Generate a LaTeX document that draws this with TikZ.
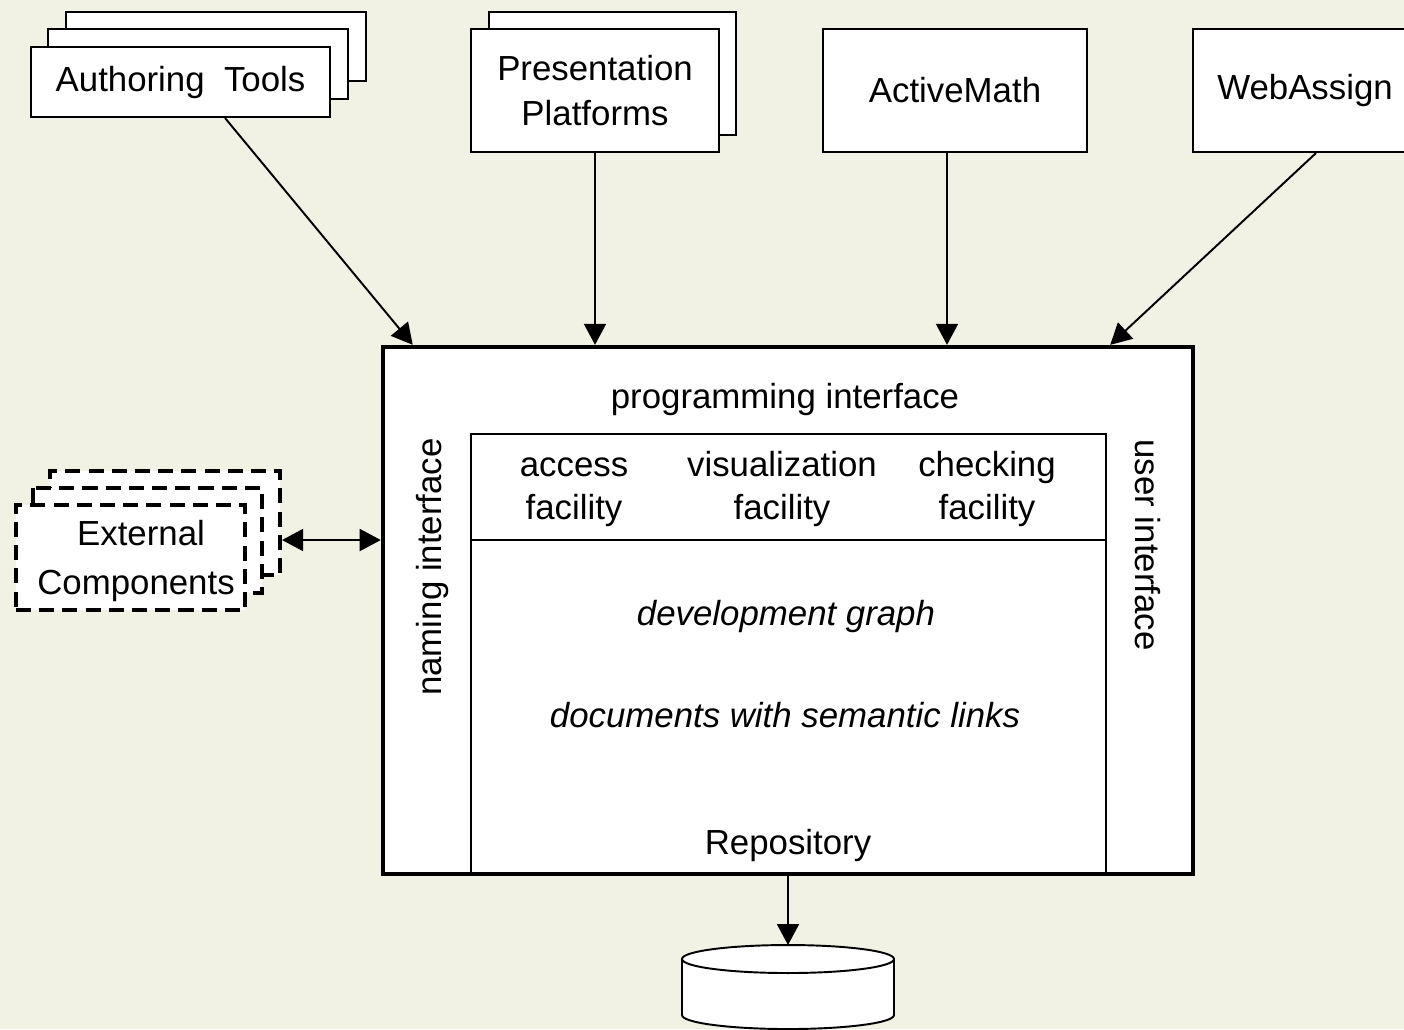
\documentclass[tikz,border=0pt]{standalone}
\usepackage{fontspec}
\setmainfont{Liberation Sans}
\usetikzlibrary{arrows.meta, positioning, calc}
\definecolor{paper}{RGB}{241,241,228}

\begin{document}
\begin{tikzpicture}[x=0.01cm, y=-0.01cm,
    font=\fontsize{9.9}{12.3}\selectfont,
    >={Triangle[length=0.21cm, width=0.22cm]},
    box/.style={draw, fill=white, line width=0.55pt, inner sep=0pt, align=center},
    dashbox/.style={draw, fill=white, line width=1.15pt, inner sep=0pt, dash pattern=on 4.3pt off 2.3pt},
    arr/.style={line width=0.55pt, ->}]
    % Background
    \fill[paper] (0,0) rectangle (1404,1029);
    \useasboundingbox (0,0) rectangle (1404,1029);

    % Draw client tools
    \draw[box] (66,12) rectangle (366,81);
    \draw[box] (48,29) rectangle (348,99);
    \node[box, minimum width=2.99cm, minimum height=0.70cm] (auth) at (180.5,82) {Authoring\ \ Tools};
    \draw[box] (489,12) rectangle (736,135);
    \node[box, minimum width=2.47cm, minimum height=1.23cm] (pres) at (595,90.5) {Presentation\\[0.6pt]Platforms};
    \node[box, minimum width=2.64cm, minimum height=1.23cm] (am) at (955,90.5) {ActiveMath};
    \node[box, minimum width=2.24cm, minimum height=1.23cm] (web) at (1305,90.5) {WebAssign};

    % Draw repository system
    \node[draw, fill=white, line width=1.15pt, minimum width=8.10cm, minimum height=5.27cm] (repo) at (788,610.5) {};
    \node[draw, line width=0.55pt, minimum width=6.35cm, minimum height=4.40cm] (core) at (788.5,654) {};
    \draw[line width=0.55pt] (471,540) -- (1106,540);
    \node (prog) at (785,399) {programming interface};
    \node[align=center] (access) at (574,492) {access\\facility};
    \node[align=center] (vis) at (782,489) {visualization\\facility};
    \node[align=center] (check) at (987,489) {checking\\facility};
    \node[rotate=90] (naming) at (432,567) {naming interface};
    \node[rotate=-90] (user) at (1148,545) {user interface};
    \node (devgraph) at (786,616) {\itshape development graph};
    \node (docs) at (785,715) {\itshape documents with semantic links};
    \node (replabel) at (788,845) {Repository};

    % Draw external components
    \node[dashbox, minimum width=2.30cm, minimum height=1.04cm] (extback) at (165,523) {};
    \draw[dashbox] (33,488) rectangle (262,593);
    \node[dashbox, minimum width=2.29cm, minimum height=1.05cm] (ext) at (130.5,557.5) {};
    \node[align=center] (extlabel) at (136,561) {\hspace*{0.1cm}External\\[1.5pt]Components};

    % Draw database
    \coordinate (db) at (788,945);
    \draw[fill=white, line width=0.55pt] (682,959) -- (682,1015) arc[start angle=180, end angle=0, x radius=106, y radius=14] -- (894,959);
    \draw[fill=white, line width=0.55pt] (788,959) ellipse [x radius=106, y radius=14];

    % Add connections
    \draw[arr] ([xshift=0.445cm]auth.south) -- ([xshift=0.32cm]repo.north west);
    \draw[arr] (pres.south) -- (pres.south |- repo.north);
    \draw[arr] ([xshift=-0.08cm]am.south) -- ([xshift=-0.08cm]am.south |- repo.north);
    \draw[arr] ([xshift=0.11cm]web.south) -- ([xshift=-0.85cm]repo.north east);
    \coordinate (extlink) at ([yshift=-0.17cm]extback.east);
    \draw[arr, <->] (extlink) -- (extlink -| repo.west);
    \draw[arr] (repo.south) -- (db);
\end{tikzpicture}
\end{document}
